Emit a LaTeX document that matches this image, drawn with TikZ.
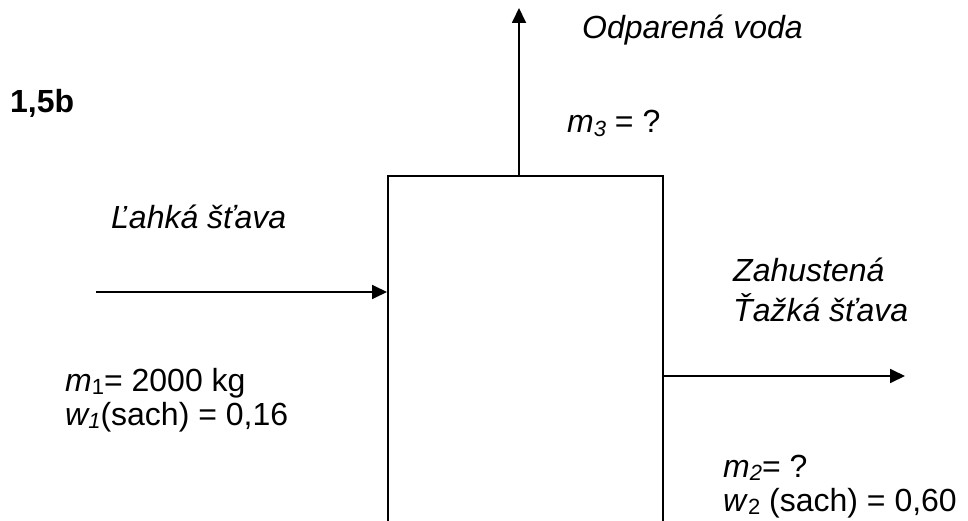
\documentclass[tikz,border=0pt]{standalone}
\usepackage{fontspec}
\setmainfont{Liberation Sans}
\usetikzlibrary{arrows.meta}
\tikzset{
  lbl/.style={anchor=base west, inner sep=0pt, align=left, font=\fontsize{32}{34}\selectfont},
  arr/.style={line width=1.8pt, -{Triangle[length=15pt,width=14pt]}},
  procbox/.style={draw, line width=1.8pt, minimum width=275pt, minimum height=420pt, anchor=north west, inner sep=0pt}
}
\newcommand{\sub}[1]{\raisebox{-0.1em}{\fontsize{22}{22}\selectfont #1}}
\begin{document}
\begin{tikzpicture}[x=1pt,y=-1pt]
\useasboundingbox (0,0) rectangle (968,521);
\clip (0,0) rectangle (968,521);
\node[procbox] (box) at (387,175) {};
\coordinate (top) at (519,8);
\coordinate (in) at (96,292);
\coordinate (out) at (905,376);
\draw[arr] (box.north -| top) -- (top);
\draw[arr] (in) -- (in -| box.west);
\draw[arr] (out -| box.east) -- (out);
\node[lbl, font=\fontsize{32}{34}\selectfont\bfseries] (pts) at (10,113) {1,5b};
\node[lbl] (t3) at (582,39) {\itshape Odparená voda};
\node[lbl] (m3) at (567,133) {\textit{m\sub{3}} = ?};
\node[lbl] (t1) at (111,229) {\itshape Ľahká šťava};
\node[lbl, font=\fontsize{32}{40}\selectfont] (t2) at (733,321) {\itshape Zahustená\\\itshape Ťažká šťava};
\node[lbl] (m1) at (65,425) {\textit{m}\sub{1}= 2000 kg\\\textit{w\sub{1}}(sach) = 0,16};
\node[lbl] (m2) at (723,511) {\textit{m\sub{2}}= ?\\\textit{w}\sub{2} (sach) = 0,60};
\end{tikzpicture}
\end{document}
